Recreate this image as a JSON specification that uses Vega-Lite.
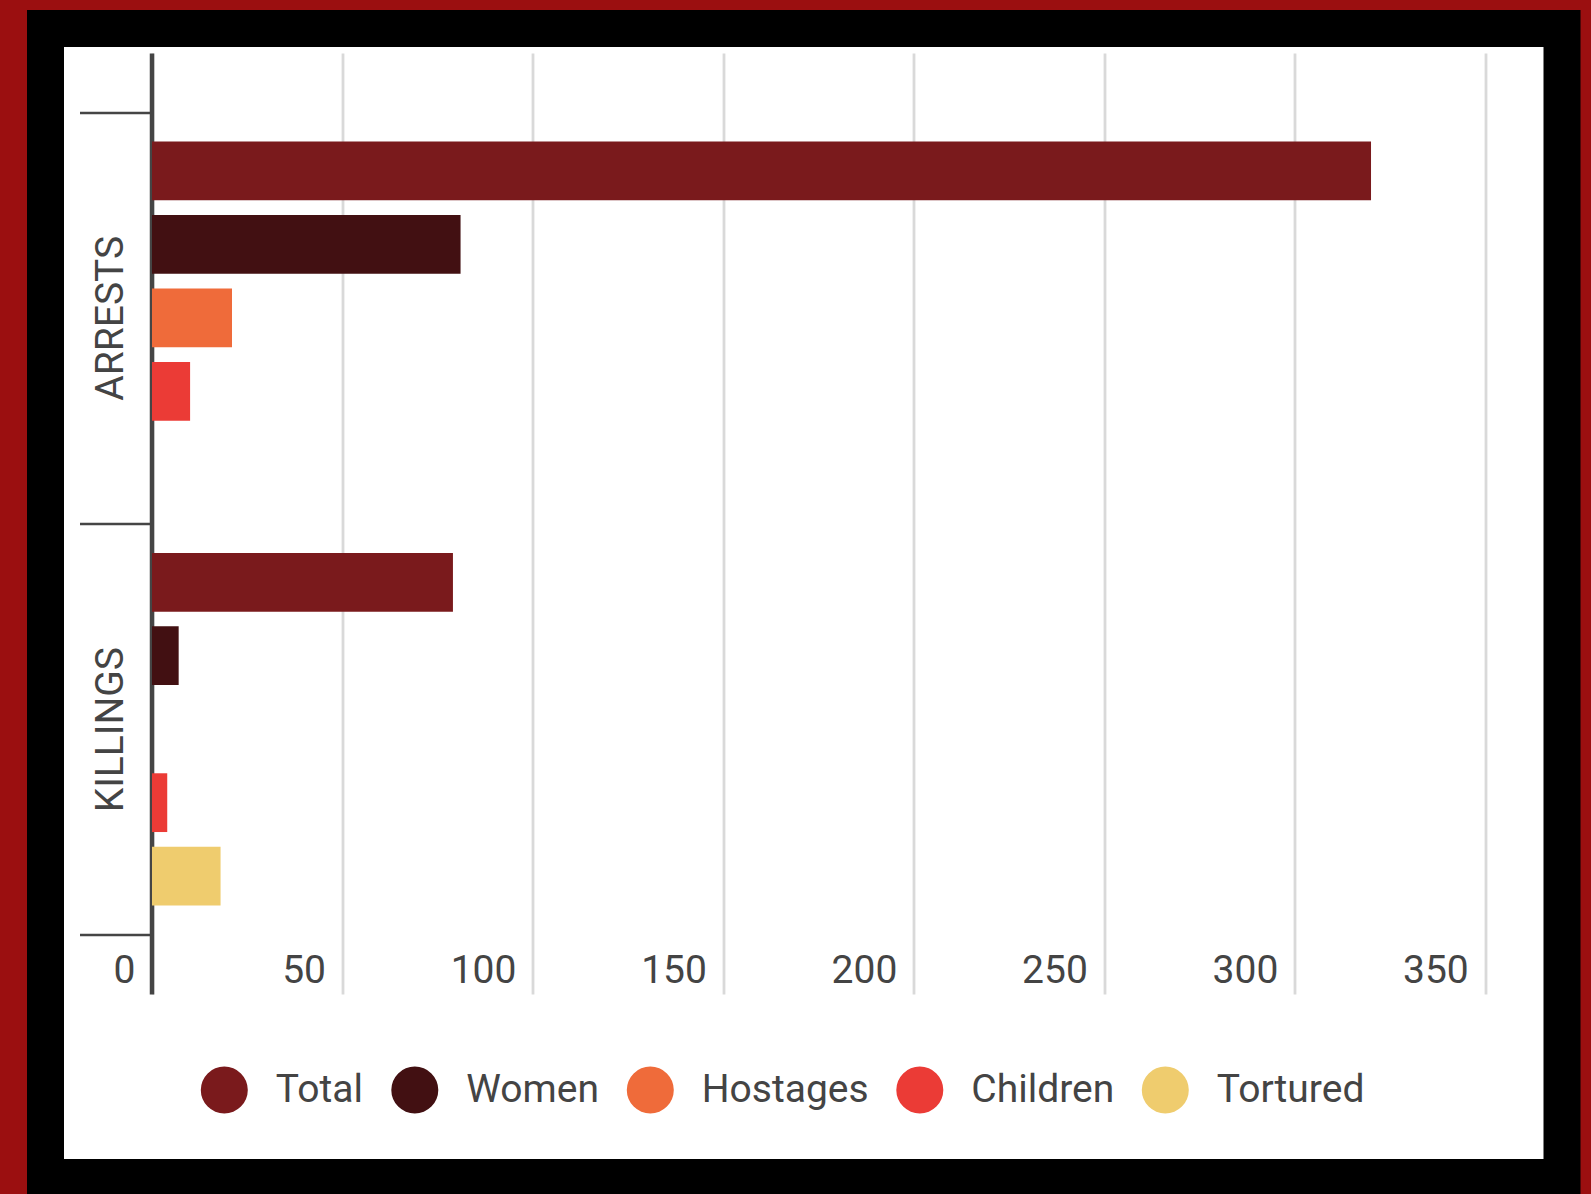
{
  "$schema": "https://vega.github.io/schema/vega-lite/v6.json",
  "autosize": "none",
  "width": 1516.5,
  "height": 1149,
  "padding": {"left": 45.5, "top": 28.5, "right": 29, "bottom": 16.5},
  "background": "#9b0f10",
  "config": {
    "font": "Roboto",
    "view": {"stroke": "#000000", "strokeWidth": 37, "fill": "#ffffff"}
  },
  "data": {
    "values": [
      {"category": "ARRESTS", "type": "Total", "count": 320},
      {"category": "ARRESTS", "type": "Women", "count": 81},
      {"category": "ARRESTS", "type": "Hostages", "count": 21},
      {"category": "ARRESTS", "type": "Children", "count": 10},
      {"category": "KILLINGS", "type": "Total", "count": 79},
      {"category": "KILLINGS", "type": "Women", "count": 7},
      {"category": "KILLINGS", "type": "Children", "count": 4},
      {"category": "KILLINGS", "type": "Tortured", "count": 18}
    ]
  },
  "mark": {"type": "bar"},
  "encoding": {
    "y": {
      "field": "category",
      "type": "nominal",
      "sort": ["ARRESTS", "KILLINGS"],
      "scale": {"range": [24.5, 965.5], "paddingInner": 0, "paddingOuter": 0.1437},
      "axis": {
        "title": null,
        "orient": "left",
        "offset": -106,
        "grid": false,
        "domain": true,
        "domainColor": "#454545",
        "domainWidth": 4.5,
        "ticks": true,
        "tickBand": "extent",
        "tickSize": 72,
        "tickWidth": 2.5,
        "tickColor": "#454545",
        "labelAngle": 270,
        "labelAlign": "center",
        "labelBaseline": "alphabetic",
        "labelPadding": -43,
        "labelFontSize": 39,
        "labelFont": "Roboto",
        "labelColor": "#444444"
      }
    },
    "yOffset": {
      "field": "type",
      "type": "nominal",
      "sort": ["Total", "Women", "Hostages", "Children", "Tortured"],
      "scale": {
        "domain": ["Total", "Women", "Hostages", "Children", "Tortured"],
        "paddingInner": 0.2,
        "paddingOuter": 0.4
      }
    },
    "x": {
      "field": "count",
      "type": "quantitative",
      "scale": {"domain": [0, 350], "range": [106.5, 1439.8], "nice": false, "zero": true},
      "axis": {
        "title": null,
        "orient": "top",
        "offset": 0,
        "values": [0, 50, 100, 150, 200, 250, 300, 350],
        "domain": false,
        "ticks": false,
        "tickSize": 0,
        "grid": true,
        "gridColor": "#d9d9d9",
        "gridWidth": 2.8,
        "labelAlign": "right",
        "labelBaseline": "alphabetic",
        "labelOffset": -17,
        "labelPadding": -953.5,
        "labelFontSize": 39,
        "labelFont": "Roboto",
        "labelColor": "#444444",
        "labelFlush": false,
        "labelOverlap": false
      }
    },
    "color": {
      "field": "type",
      "type": "nominal",
      "scale": {
        "domain": ["Total", "Women", "Hostages", "Children", "Tortured"],
        "range": ["#7a1a1c", "#421012", "#ef6b3a", "#eb3b36", "#efcc6e"]
      },
      "legend": {
        "title": null,
        "orient": "none",
        "legendX": 155.3,
        "legendY": 1038,
        "direction": "horizontal",
        "symbolType": "circle",
        "symbolSize": 2209,
        "symbolStrokeWidth": 0,
        "symbolOpacity": 1,
        "labelFontSize": 39,
        "labelFont": "Roboto",
        "labelColor": "#444444",
        "labelOffset": 28,
        "labelLimit": 400,
        "columnPadding": 27.5,
        "padding": 0
      }
    }
  }
}
